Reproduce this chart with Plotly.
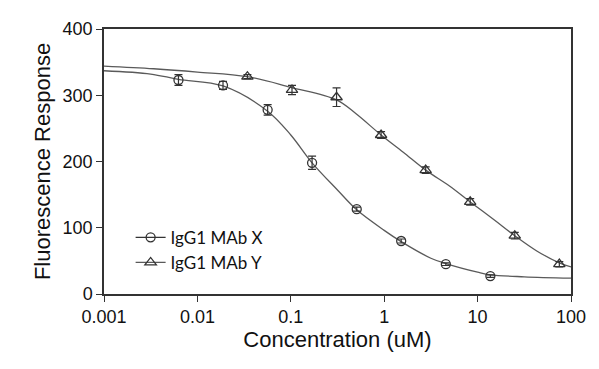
import plotly.graph_objects as go

# Data points (mean ± error)
conc_x = [0.00627, 0.0188, 0.0565, 0.169, 0.508, 1.52, 4.57, 13.7]
resp_x = [323, 315, 278, 198, 128, 80, 45, 27]
err_x = [8, 6, 8, 10, 3, 3, 2, 2]

conc_y = [0.0343, 0.103, 0.309, 0.926, 2.78, 8.33, 25.0, 75.0]
resp_y = [328, 308, 297, 240, 187, 139, 88, 45]
err_y = [3, 7, 14, 5, 5, 5, 5, 4]

# Fitted curves
curve_x_conc = [0.001, 0.00316, 0.00627, 0.0188, 0.0565, 0.1, 0.169, 0.316, 0.508, 1.0, 1.52, 3.16, 4.57, 10, 13.7, 31.6, 100]
curve_x_resp = [337, 332, 324, 314, 276, 240, 198, 157, 127, 96, 79, 54, 46, 33, 29, 26, 24]

curve_y_conc = [0.001, 0.0034, 0.01, 0.0343, 0.1, 0.309, 0.5, 0.926, 1.6, 2.78, 5.0, 8.33, 15, 25, 43, 75, 100]
curve_y_resp = [344, 340, 335, 328, 312, 293, 272, 240, 214, 187, 163, 139, 112, 88, 65, 47, 41]

x_tickvals = [0.001, 0.01, 0.1, 1, 10, 100]
x_ticktext = ["0.001", "0.01", "0.1", "1", "10", "100"]
y_tickvals = [0, 100, 200, 300, 400]

names = ["IgG1 MAb X", "IgG1 MAb Y"]

dark = "#333333"
curve_col = "#5a5a5a"

fig = go.Figure()

fig.add_trace(go.Scatter(x=curve_x_conc, y=curve_x_resp, mode="lines",
                         line=dict(color=curve_col, width=1.3, shape="spline", smoothing=1.0),
                         showlegend=False, hoverinfo="skip"))
fig.add_trace(go.Scatter(x=curve_y_conc, y=curve_y_resp, mode="lines",
                         line=dict(color=curve_col, width=1.3, shape="spline", smoothing=1.0),
                         showlegend=False, hoverinfo="skip"))

fig.add_trace(go.Scatter(x=conc_x, y=resp_x, mode="markers",
                         marker=dict(symbol="circle-open", size=9, color=dark, line=dict(width=1.3, color=dark)),
                         error_y=dict(type="data", array=err_x, visible=True, color=dark, thickness=1.2, width=4),
                         showlegend=False))
fig.add_trace(go.Scatter(x=conc_y, y=resp_y, mode="markers",
                         marker=dict(symbol="triangle-up-open", size=10, color=dark, line=dict(width=1.3, color=dark)),
                         error_y=dict(type="data", array=err_y, visible=True, color=dark, thickness=1.2, width=4),
                         showlegend=False))

# legend entries
fig.add_trace(go.Scatter(x=[None], y=[None], mode="lines+markers", name=names[0],
                         line=dict(color=dark, width=1.3),
                         marker=dict(symbol="circle-open", size=9, color=dark, line=dict(width=1.3, color=dark))))
fig.add_trace(go.Scatter(x=[None], y=[None], mode="lines+markers", name=names[1],
                         line=dict(color=curve_col, width=1.3),
                         marker=dict(symbol="triangle-up-open", size=10, color=dark, line=dict(width=1.3, color=dark))))

axis_font = dict(family="Liberation Sans, Arial, sans-serif", size=18, color="#111111")
title_font = dict(family="Liberation Sans, Arial, sans-serif", size=22, color="#111111")

fig.update_layout(
    width=591, height=361,
    margin=dict(l=96, r=28, t=21, b=75),
    paper_bgcolor="white", plot_bgcolor="white",
    xaxis=dict(type="log", range=[-3, 2], tickvals=x_tickvals, ticktext=x_ticktext,
               showgrid=False, zeroline=False, showline=True, linecolor=dark, linewidth=1.5,
               mirror=True, ticks="outside", ticklen=6, tickwidth=1.3, tickcolor=dark,
               tickfont=axis_font, automargin=False,
               title=dict(text="Concentration (uM)", font=title_font, standoff=4)),
    yaxis=dict(range=[0, 400], tickvals=y_tickvals,
               showgrid=False, zeroline=False, showline=True, linecolor=dark, linewidth=1.5,
               mirror=True, ticks="outside", ticklen=6, tickwidth=1.3, tickcolor=dark,
               tickfont=axis_font, automargin=False,
               title=dict(text="Fluorescence Response", font=title_font, standoff=6)),
    legend=dict(x=0.057, y=0.28, xanchor="left", yanchor="top", bgcolor="rgba(0,0,0,0)",
                font=dict(family="Lato, Noto Sans, sans-serif", size=17, color="#111111"),
                itemwidth=30),
    showlegend=True,
)

fig.write_html("out.html")
